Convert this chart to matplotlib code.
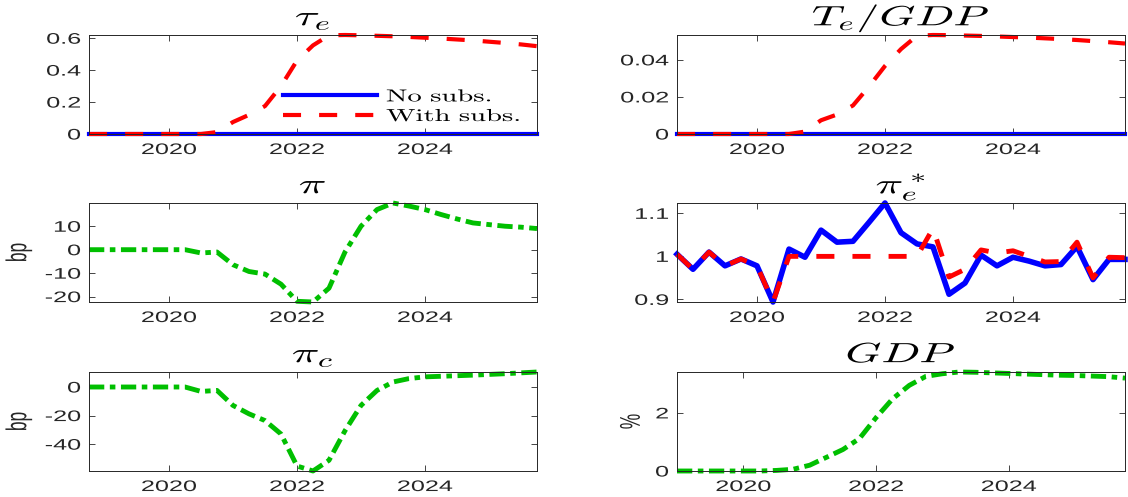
import numpy as np
import matplotlib
matplotlib.use('Agg')
import matplotlib.pyplot as plt
from matplotlib.patheffects import AbstractPathEffect
from matplotlib.transforms import Affine2D

plt.rcParams['mathtext.fontset'] = 'cm'
plt.rcParams['font.family'] = ['Liberation Sans', 'DejaVu Sans']
plt.rcParams['lines.scale_dashes'] = False

# the reference is stretched sideways, so stretch the glyphs the same way
SX = 1.65


class Stretch(AbstractPathEffect):
    def __init__(self, sx, anchor='center'):
        super().__init__()
        self.sx = sx
        self.anchor = anchor

    def draw_path(self, renderer, gc, tpath, affine, rgbFace=None):
        ext = tpath.get_extents(affine)
        if self.anchor == 'left':
            cx = ext.x0
        elif self.anchor == 'right':
            cx = ext.x1
        else:
            cx = 0.5 * (ext.x0 + ext.x1)
        a = affine + Affine2D().translate(-cx, 0).scale(self.sx, 1).translate(cx, 0)
        renderer.draw_path(gc, tpath, a, rgbFace)


# quarterly grid
quarters = 2018.75 + 0.25 * np.arange(29)
quarters_gdp = 2019.0 + 0.25 * np.arange(28)

tau_no = [0.0] * 29
tau_with = [0, 0, 0, 0, 0, 0, 0, 0, 0.012, 0.075, 0.12, 0.175, 0.30, 0.46, 0.555,
            0.618, 0.620, 0.618, 0.615, 0.612, 0.608, 0.603, 0.598, 0.592, 0.586,
            0.578, 0.570, 0.561, 0.550]

te_gdp_no = [0.0] * 29
te_gdp_with = [0, 0, 0, 0, 0, 0, 0, 0, 0.0013, 0.0074, 0.0105, 0.0154, 0.0256, 0.0367,
               0.0458, 0.0530, 0.0534, 0.0533, 0.0531, 0.0529, 0.0526, 0.0523, 0.0520,
               0.0516, 0.0512, 0.0507, 0.0501, 0.0495, 0.0488]

pi_bp = [0, 0, 0, 0, 0, 0, 0, -1.4, -1.0, -6.4, -9.3, -10.4, -14.7, -22.0, -22.3,
         -16.4, -1.0, 10.0, 17.1, 19.9, 18.6, 17.1, 15.0, 13.1, 11.4, 10.7, 10.0, 9.6, 9.0]

pie_no = [1.005, 0.970, 1.010, 0.978, 0.994, 0.978, 0.894, 1.017, 0.998, 1.061, 1.033,
          1.035, 1.079, 1.124, 1.055, 1.029, 1.022, 0.912, 0.938, 1.003, 0.978, 0.998,
          0.989, 0.978, 0.981, 1.023, 0.946, 0.993, 0.993]
pie_with = [1.005, 0.970, 1.010, 0.978, 0.994, 0.978, 0.894, 1.0, 1.0, 1.0, 1.0, 1.0,
            1.0, 1.0, 1.0, 1.0, 1.065, 0.952, 0.970, 1.015, 1.008, 1.013, 1.0, 0.987,
            0.988, 1.033, 0.950, 0.998, 0.997]

pic_bp = [0, 0, 0, 0, 0, 0, 0, -3.1, -2.4, -12.9, -18.8, -23.5, -32.9, -55.3, -58.8,
          -51.3, -30.6, -12.9, -2.4, 3.5, 5.9, 7.1, 7.5, 7.9, 8.3, 8.8, 9.3, 9.9, 10.5]

gdp_pct = [0, 0, 0, 0, 0, 0, 0.02, 0.06, 0.20, 0.47, 0.74, 1.12, 1.84, 2.49, 2.95,
           3.26, 3.35, 3.41, 3.40, 3.38, 3.36, 3.34, 3.32, 3.30, 3.29, 3.27, 3.25, 3.20]

xticks = [2020, 2022, 2024]

BLUE = '#0000FF'
RED = '#FF0000'
GREEN = '#00BF00'
DARK = '#262626'
DASH = (0, (13, 13))
DASHDOT = (0, (11, 4, 4, 4))

W, H = 1128, 497
fig = plt.figure(figsize=(W / 100, H / 100), dpi=100)


def make_ax(left, top, title, yticks, yticklabels, ylabel=None, ylabel_x=-0.14):
    ax = fig.add_axes([left / W, 1 - (top + 99) / H, 448 / W, 99 / H])
    for s in ax.spines.values():
        s.set_color(DARK)
        s.set_linewidth(0.7)
    ax.tick_params(direction='in', top=True, right=True, length=4, width=0.6,
                   color=DARK, labelcolor=DARK, labelsize=11)
    ax.tick_params(axis='x', pad=6.5)
    ax.tick_params(axis='y', pad=6)
    ax.set_xticks(xticks)
    ax.set_xticklabels([str(t) for t in xticks])
    ax.set_yticks(yticks)
    ax.set_yticklabels(yticklabels)
    for lbl in ax.get_xticklabels():
        lbl.set_path_effects([Stretch(SX, 'center')])
    for lbl in ax.get_yticklabels():
        lbl.set_path_effects([Stretch(SX, 'right')])
    t = ax.set_title(title, fontsize=20, pad=7)
    t.set_path_effects([Stretch(SX, 'center')])
    if ylabel:
        yl = ax.set_ylabel(ylabel, fontsize=12.5, color=DARK)
        ax.yaxis.set_label_coords(ylabel_x, 0.5)
        yl.set_path_effects([Stretch(SX, 'center')])
    return ax


# tau_e
ax = make_ax(89, 35, r'$\tau_e$', [0, 0.2, 0.4, 0.6], ['0', '0.2', '0.4', '0.6'])
h1, = ax.plot(quarters, tau_no, color=BLUE, lw=3, clip_on=False)
h2, = ax.plot(quarters, tau_with, color=RED, lw=3, linestyle=DASH, clip_on=False)
ax.set_xlim(quarters[0], quarters[-1])
ax.set_ylim(min(tau_with + tau_no), max(tau_with + tau_no))
leg = ax.legend([h1, h2], [r'$\mathrm{No\ subs.}$', r'$\mathrm{With\ subs.}$'],
                loc='center left', bbox_to_anchor=(0.433, 0.285), frameon=False,
                fontsize=12.5, handlelength=5.4, handletextpad=0.55, borderpad=0,
                borderaxespad=0, labelspacing=0.15)
for txt in leg.get_texts():
    txt.set_path_effects([Stretch(SX, 'left')])

# T_e / GDP
ax = make_ax(677, 35, r'$T_e/GDP$', [0, 0.02, 0.04], ['0', '0.02', '0.04'])
ax.plot(quarters, te_gdp_no, color=BLUE, lw=3, clip_on=False)
ax.plot(quarters, te_gdp_with, color=RED, lw=3, linestyle=DASH, clip_on=False)
ax.set_xlim(quarters[0], quarters[-1])
ax.set_ylim(min(te_gdp_with + te_gdp_no), max(te_gdp_with + te_gdp_no))

# pi
ax = make_ax(89, 203, r'$\pi$', [-20, -10, 0, 10], ['-20', '-10', '0', '10'],
             ylabel='bp', ylabel_x=-0.14)
ax.plot(quarters, pi_bp, color=GREEN, lw=3.5, linestyle=DASHDOT, clip_on=False)
ax.set_xlim(quarters[0], quarters[-1])
ax.set_ylim(min(pi_bp), max(pi_bp))

# pi_e^*
ax = make_ax(677, 203, r'$\pi_e^*$', [0.9, 1.0, 1.1], ['0.9', '1', '1.1'])
ax.plot(quarters, pie_no, color=BLUE, lw=4, clip_on=False)
ax.plot(quarters, pie_with, color=RED, lw=3.5, linestyle=DASH, clip_on=False)
ax.set_xlim(quarters[0], quarters[-1])
ax.set_ylim(min(pie_no + pie_with), max(pie_no + pie_with))

# pi_c
ax = make_ax(89, 372, r'$\pi_c$', [-40, -20, 0], ['-40', '-20', '0'],
             ylabel='bp', ylabel_x=-0.14)
ax.plot(quarters, pic_bp, color=GREEN, lw=3.5, linestyle=DASHDOT, clip_on=False)
ax.set_xlim(quarters[0], quarters[-1])
ax.set_ylim(min(pic_bp), max(pic_bp))

# GDP
ax = make_ax(677, 372, r'$GDP$', [0, 2], ['0', '2'], ylabel='%', ylabel_x=-0.085)
ax.plot(quarters_gdp, gdp_pct, color=GREEN, lw=3.5, linestyle=DASHDOT, clip_on=False)
ax.set_xlim(quarters_gdp[0], quarters_gdp[-1])
ax.set_ylim(min(gdp_pct), max(gdp_pct))

fig.savefig('out.png', dpi=100)
